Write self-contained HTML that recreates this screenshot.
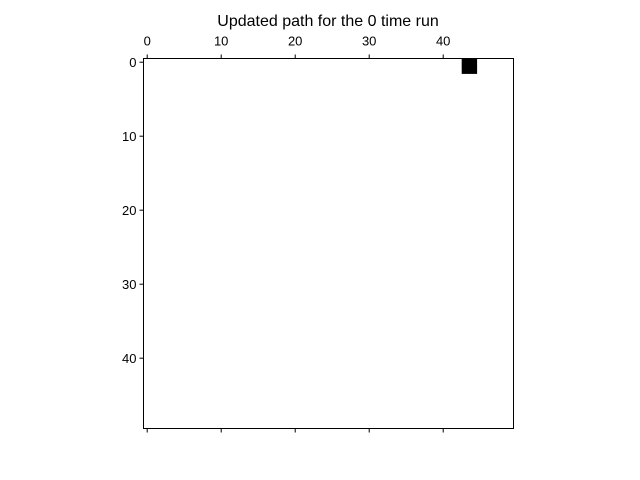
<!DOCTYPE html>
<html><head><meta charset="utf-8"><style>body{margin:0;background:#fff}svg{display:block}text{font-family:"Liberation Sans","DejaVu Sans",sans-serif;font-size:13px;fill:#000}</style></head>
<body>
<svg id="c" width="640" height="480">
<text x="328" y="26" text-anchor="middle" font-size="16" style="font-size:16px">Updated path for the 0 time run</text>
<rect x="143.5" y="58.5" width="370" height="370" fill="#fff" stroke="#000" stroke-width="1"/>
<g id="cells"></g><g id="ticks"></g>
</svg>
<script>
const gridSize = 50;
const filledRows = [0, 0, 1, 1];
const filledCols = [43, 44, 43, 44];
const xTicks = [0, 10, 20, 30, 40];
const yTicks = [0, 10, 20, 30, 40];
const NS = "http://www.w3.org/2000/svg";
const L = 143.5, T = 58.5, S = 370, cw = S / gridSize;
const xs = v => L + (v + 0.5) * cw;
const ys = v => T + (v + 0.5) * cw;
const cells = document.getElementById('cells'), ticks = document.getElementById('ticks');
for (let i = 0; i < filledRows.length; i++) {
  const r = document.createElementNS(NS, 'rect');
  r.setAttribute('x', xs(filledCols[i]) - cw / 2);
  r.setAttribute('y', ys(filledRows[i]) - cw / 2);
  r.setAttribute('width', cw + 0.6); r.setAttribute('height', cw + 0.6);
  r.setAttribute('fill', '#000');
  
  
  cells.appendChild(r);
}
function line(x1, y1, x2, y2, name) {
  const l = document.createElementNS(NS, 'line');
  l.setAttribute('x1', x1); l.setAttribute('y1', y1); l.setAttribute('x2', x2); l.setAttribute('y2', y2);
  l.setAttribute('stroke', '#000');
  
  
  ticks.appendChild(l);
}
function label(x, y, t, anchor, name) {
  const e = document.createElementNS(NS, 'text');
  e.setAttribute('x', x); e.setAttribute('y', y); e.setAttribute('text-anchor', anchor);
  e.textContent = t;
  
  
  ticks.appendChild(e);
}
xTicks.forEach(v => {
  const x = xs(v);
  line(x, T, x, T - 4, 'x-tick-top');
  line(x, T + S, x, T + S + 4, 'x-tick-bottom');
  label(x, T - 13, String(v), 'middle', 'x-tick-label');
});
yTicks.forEach(v => {
  const y = ys(v);
  line(L, y, L - 4, y, 'y-tick');
  label(L - 7, y + 5, String(v), 'end', 'y-tick-label');
});
</script>
</body></html>
